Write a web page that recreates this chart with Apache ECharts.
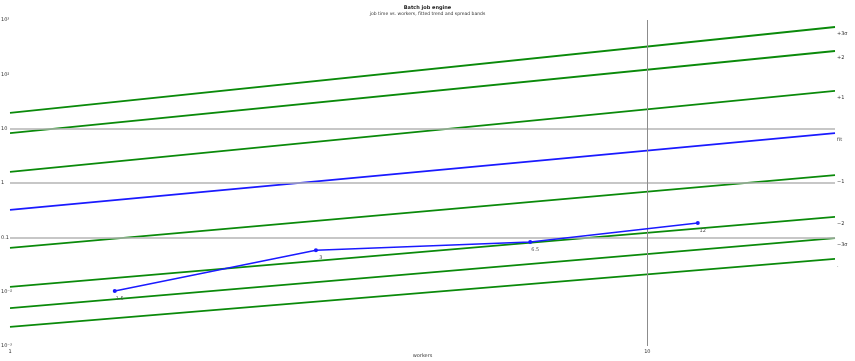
<!DOCTYPE html>
<html>
<head>
<meta charset="utf-8">
<script src="https://cdn.jsdelivr.net/npm/echarts@6/dist/echarts.min.js"></script>
<style>
  html, body { margin: 0; padding: 0; background: #fff; }
  #chart { width: 855px; height: 361px; }
</style>
</head>
<body>
<div id="chart"></div>
<script>
// Measured job times against worker count (log-log)
const workers = [1.46, 3.02, 6.55, 12.0];
const jobTime = [0.0103, 0.058, 0.082, 0.184];
const pointLabels = ['1.5', '3', '6.5', '12'];

// Reference bands: value at 1 worker and at the right edge of the range
const bandX = [1, 19.7];
const bandNames = ['+3σ', '+2', '+1', 'fit', '−1', '−2', '−3σ', '.'];
const bandStart = [19.5, 8.3, 1.6, 0.32, 0.064, 0.0122, 0.005, 0.00224];
const bandEnd = [743, 269, 49.4, 8.3, 1.4, 0.237, 0.097, 0.040];

// Highlighted grid levels
const yGridValues = [0.1, 1, 10];
const xGridValues = [10];

const yTickValues = [0.001, 0.01, 0.1, 1, 10, 100, 1000];
const yTickLabels = ['10⁻³', '10⁻²', '0.1', '1', '10', '10²', '10³'];
const xTickValues = [1, 10];
const xTickLabels = ['1', '10'];

const GREEN = '#0a8a0a';
const BLUE = '#1a1aff';

const series = [];
bandNames.forEach(function (name, i) {
  const isFit = name === 'fit';
  series.push({
    name: name,
    type: 'line',
    data: [[bandX[0], bandStart[i]], [bandX[1], bandEnd[i]]],
    symbol: 'none',
    silent: true,
    z: isFit ? 4 : 3,
    lineStyle: { color: isFit ? BLUE : GREEN, width: 1.8 },
    endLabel: {
      show: true,
      formatter: name,
      fontSize: 5,
      color: '#333',
      distance: 2,
      offset: [0, 7]
    }
  });
});

series.push({
  name: 'grid',
  type: 'line',
  data: [],
  silent: true,
  markLine: {
    silent: true,
    symbol: 'none',
    label: { show: false },
    data: yGridValues.map(function (v) {
      return { yAxis: v, lineStyle: { color: '#b4b4b4', width: 1.5, type: 'solid' } };
    }).concat(xGridValues.map(function (v) {
      return { xAxis: v, lineStyle: { color: '#8c8c8c', width: 1, type: 'solid' } };
    }))
  },
  z: 1
});

series.push({
  name: 'measured',
  type: 'line',
  data: workers.map(function (w, i) { return [w, jobTime[i]]; }),
  symbol: 'circle',
  symbolSize: 4,
  z: 5,
  lineStyle: { color: BLUE, width: 1.5 },
  itemStyle: { color: BLUE },
  label: {
    show: true,
    position: 'bottom',
    offset: [5, -2],
    fontSize: 5,
    color: '#555',
    formatter: function (p) { return pointLabels[p.dataIndex]; }
  }
});

const chart = echarts.init(document.getElementById('chart'), null, { renderer: 'canvas' });
chart.setOption({
  animation: false,
  backgroundColor: '#ffffff',
  textStyle: { fontFamily: 'DejaVu Sans' },
  title: {
    text: 'Batch job engine',
    subtext: 'job time vs. workers, fitted trend and spread bands',
    left: 'center',
    top: 0,
    itemGap: 1,
    textStyle: { fontSize: 5, fontWeight: 'bold', color: '#222' },
    subtextStyle: { fontSize: 4.5, color: '#333' }
  },
  grid: { left: 10, right: 20, top: 20, bottom: 15, outerBoundsMode: 'none', containLabel: false },
  xAxis: {
    type: 'log',
    logBase: 10,
    min: 1,
    max: 19.7,
    name: 'workers',
    nameLocation: 'middle',
    nameGap: 10,
    nameMoveOverlap: false,
    nameTextStyle: { fontSize: 5, color: '#333', verticalAlign: 'middle' },
    axisLine: { show: false },
    axisTick: { show: false },
    splitLine: { show: false },
    axisLabel: {
      fontSize: 5,
      color: '#333',
      margin: 3,
      showMaxLabel: false,
      formatter: function (v) {
        const i = xTickValues.indexOf(v);
        return i >= 0 ? xTickLabels[i] : '';
      }
    }
  },
  yAxis: {
    type: 'log',
    logBase: 10,
    min: 0.001,
    max: 1000,
    axisLine: { show: false },
    axisTick: { show: false },
    splitLine: { show: false },
    axisLabel: {
      fontSize: 5,
      color: '#333',
      margin: 9,
      align: 'left',
      formatter: function (v) {
        let best = 0;
        yTickValues.forEach(function (t, i) {
          if (Math.abs(Math.log10(t) - Math.log10(v)) < Math.abs(Math.log10(yTickValues[best]) - Math.log10(v))) best = i;
        });
        return yTickLabels[best];
      }
    }
  },
  series: series
});
</script>
</body>
</html>
